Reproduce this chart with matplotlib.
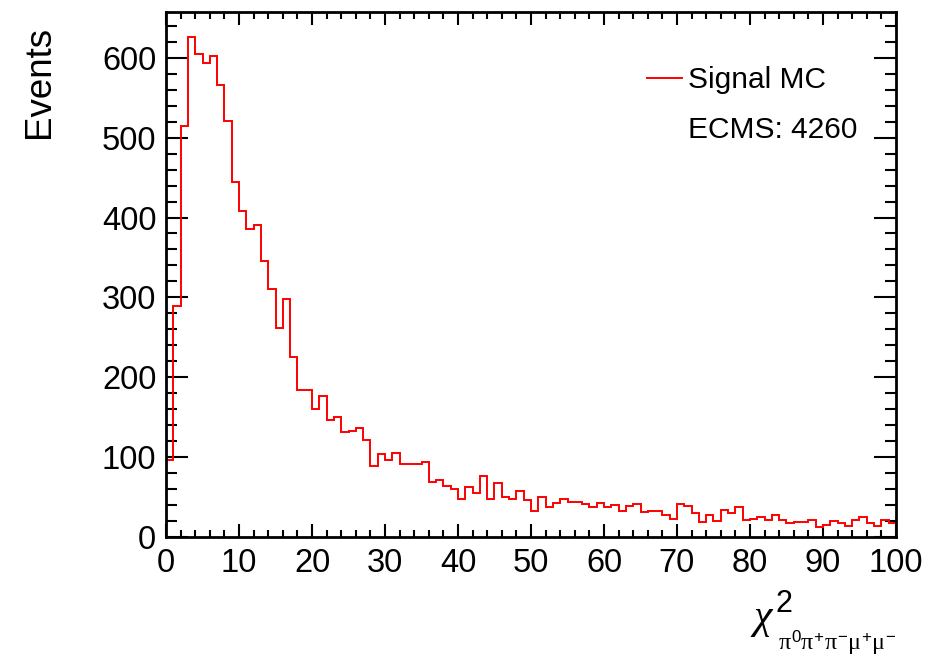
import matplotlib
matplotlib.use("Agg")
import matplotlib.pyplot as plt
from matplotlib.lines import Line2D
from matplotlib.ticker import MultipleLocator
import numpy as np

plt.rcParams['font.family'] = ['Liberation Sans', 'DejaVu Sans']
plt.rcParams['mathtext.fontset'] = 'custom'
plt.rcParams['mathtext.rm'] = 'Liberation Sans'
plt.rcParams['mathtext.it'] = 'Liberation Serif'
plt.rcParams['mathtext.bf'] = 'Liberation Sans:bold'

# chi2 histogram: 100 bins of width 1 from 0 to 100
bin_edges = np.arange(0, 101, 1)
events = [
    97, 289, 514, 626, 605, 594, 602, 566, 521, 444,
    408, 386, 391, 346, 311, 262, 298, 225, 184, 184,
    160, 176, 146, 150, 131, 133, 137, 122, 89, 104,
    96, 105, 92, 92, 92, 94, 69, 71, 64, 60,
    48, 62, 55, 76, 48, 67, 50, 48, 57, 46,
    32, 50, 37, 42, 48, 44, 44, 41, 37, 43,
    38, 40, 33, 39, 41, 31, 33, 33, 27, 22,
    41, 39, 30, 19, 28, 20, 34, 30, 37, 21,
    23, 25, 21, 28, 21, 17, 19, 19, 21, 12,
    15, 20, 18, 14, 21, 25, 17, 14, 21, 17,
]
series_label = "Signal MC"
energy_label = "ECMS: 4260"
x_ticks = [0, 10, 20, 30, 40, 50, 60, 70, 80, 90, 100]
y_ticks = [0, 100, 200, 300, 400, 500, 600]

W, H = 928, 658
fig = plt.figure(figsize=(W / 100, H / 100), dpi=100)
ax = fig.add_axes([166 / W, 1 - 537 / H, (896 - 166) / W, (537 - 12) / H])

step = ax.stairs(events, bin_edges, baseline=0, color='#ff0000', lw=1.4,
                 zorder=2)

ax.set_xlim(bin_edges[0], bin_edges[-1])
ax.set_ylim(0, max(events) * 1.05)
ax.set_xticks(x_ticks)
ax.set_yticks(y_ticks)
ax.xaxis.set_minor_locator(MultipleLocator(2))
ax.yaxis.set_minor_locator(MultipleLocator(20))

for sp in ax.spines.values():
    sp.set_linewidth(2.0)
    sp.set_zorder(3)

ax.tick_params(which='both', direction='in', top=True, right=True,
               width=1.5, labelsize=23.5, colors='black')
ax.tick_params(axis='x', which='major', length=9.5, pad=8)
ax.tick_params(axis='x', which='minor', length=5)
ax.tick_params(axis='y', which='major', length=16, pad=7)
ax.tick_params(axis='y', which='minor', length=8)

# legend: histogram entry plus a text-only entry
blank = Line2D([], [], linestyle='none', marker=None)
leg_line = Line2D([], [], color='#ff0000', lw=1.4)
leg = ax.legend([leg_line, blank], [series_label, energy_label],
                loc='upper left',
                bbox_to_anchor=((647 - 166) / 730, (537 - 66) / 525),
                frameon=False, fontsize=21.5, handlelength=1.17,
                handletextpad=0.2, labelspacing=0.72, borderaxespad=0,
                borderpad=0)

fig.text(40 / W, 1 - 26 / H, 'Events', rotation=90, ha='center', va='top',
         fontsize=26.5)

# x-axis title: chi^2 with the final-state subscript set below the baseline
fig.text(753 / W, 1 - 628 / H, '\u03c7', family='Liberation Serif',
         style='italic', ha='left', va='baseline', fontsize=30)
fig.text(776 / W, 1 - 612 / H, '2', ha='left', va='baseline', fontsize=22)
fig.text(778 / W, 1 - 650 / H,
         r'$\pi^{0}\pi^{+}\pi^{-}\mu^{+}\mu^{-}$',
         ha='left', va='baseline', fontsize=17.3)

fig.savefig('out.png', dpi=100)
